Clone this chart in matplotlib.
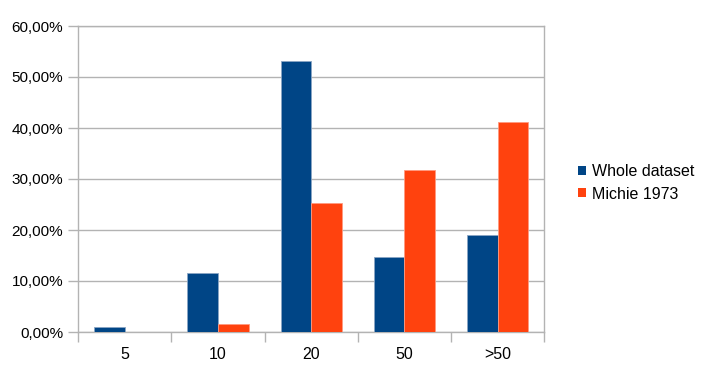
import matplotlib
matplotlib.use("Agg")
import matplotlib.pyplot as plt
import numpy as np
from matplotlib.ticker import FuncFormatter, FixedLocator
from matplotlib.patches import Patch

plt.rcParams['font.family'] = ['Liberation Sans', 'DejaVu Sans']

categories = ["5", "10", "20", "50", ">50"]
whole_dataset = [0.93, 11.6, 53.2, 14.8, 19.1]
michie_1973 = [0.0, 1.5, 25.35, 31.7, 41.2]
series_names = ["Whole dataset", "Michie 1973"]
colors = ["#004586", "#ff420e"]

fig = plt.figure(figsize=(7.02, 3.65), dpi=100)
ax = fig.add_axes([78.3/702, 33/365, (544.3-78.3)/702, (332-26)/365])

x = np.arange(len(categories))
w = 0.33
ax.bar(x - w/2, whole_dataset, w, color=colors[0], edgecolor="#8aa5c4", linewidth=0.6, zorder=3)
ax.bar(x + w/2, michie_1973, w, color=colors[1], edgecolor="#ff9a80", linewidth=0.6, zorder=3)

ax.set_xlim(-0.5, len(categories) - 0.5)
ax.set_ylim(0, 60)
ax.set_yticks(np.arange(0, 61, 10))
ax.yaxis.set_major_formatter(FuncFormatter(lambda v, p: f"{v:.2f}".replace(".", ",") + "%"))
ax.yaxis.grid(True, color="#b3b3b3", linewidth=1, zorder=0)

ax.set_xticks(x)
ax.set_xticklabels(categories)
ax.xaxis.set_minor_locator(FixedLocator(np.arange(-0.5, len(categories), 1.0)))
ax.tick_params(axis='x', which='major', length=0, pad=11, labelsize=11.5)
ax.tick_params(axis='x', which='minor', length=7, color="#b3b3b3", width=1)
ax.tick_params(axis='y', which='major', length=7, color="#b3b3b3", width=1, pad=4, labelsize=11)

for s in ["left", "bottom", "right", "top"]:
    ax.spines[s].set_color("#b3b3b3")
    ax.spines[s].set_linewidth(1)

handles = [Patch(facecolor=c, edgecolor="none") for c in colors]
fig.legend(handles, series_names, loc="center left", bbox_to_anchor=(565/702, 1 - 183/365),
           frameon=False, fontsize=11.5, handlelength=0.5, handleheight=0.5,
           handletextpad=0.4, labelspacing=0.45, borderpad=0.3)

fig.savefig("out.png", dpi=100)
